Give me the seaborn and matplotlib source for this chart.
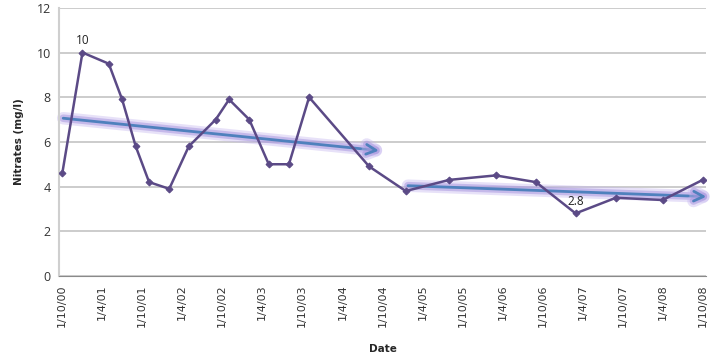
import matplotlib
matplotlib.use("Agg")
import matplotlib.pyplot as plt
import matplotlib.dates as mdates
import matplotlib.patheffects as pe
import seaborn as sns
import pandas as pd

# readings (date, nitrate mg/l)
dates = ["2000-10-01", "2001-01-01", "2001-05-01", "2001-07-01", "2001-09-01",
         "2001-11-01", "2002-02-01", "2002-05-01", "2002-09-01", "2002-11-01",
         "2003-02-01", "2003-05-01", "2003-08-01", "2003-11-01", "2004-08-01",
         "2005-01-15", "2005-08-01", "2006-03-01", "2006-09-01", "2007-03-01",
         "2007-09-01", "2008-04-01", "2008-10-01"]
nitrates = [4.6, 10, 9.5, 7.9, 5.8, 4.2, 3.9, 5.8, 7.0, 7.9, 7.0, 5.0, 5.0, 8.0,
            4.9, 3.8, 4.3, 4.5, 4.2, 2.8, 3.5, 3.4, 4.3]

# hand drawn trend arrows (start, end)
trend1_dates = ["2000-10-05", "2004-09-15"]
trend1_vals = [7.06, 5.61]
trend2_dates = ["2005-01-25", "2008-10-18"]
trend2_vals = [4.04, 3.55]

# labelled points
label_idx = [1, 19]

df = pd.DataFrame({"date": pd.to_datetime(dates), "nitrates": nitrates})

sns.set_style("white")
plt.rcParams['font.family'] = ['DejaVu Sans']

fig = plt.figure(figsize=(7.11, 3.57), dpi=100)
ax = fig.add_axes([0.083, 0.227, 0.91, 0.751])

line_col = "#5b4a86"
sns.lineplot(data=df, x="date", y="nitrates", ax=ax, color=line_col,
             linewidth=1.8, marker="D", markersize=3.5, markeredgecolor=line_col,
             zorder=3)

# trend arrows with a soft purple glow
glow = [pe.Stroke(linewidth=9, foreground="#c4b6ee", alpha=0.4),
        pe.Stroke(linewidth=5.5, foreground="#a592dd", alpha=0.5),
        pe.Normal()]
for td, tv in [(trend1_dates, trend1_vals), (trend2_dates, trend2_vals)]:
    t = pd.to_datetime(td)
    x0, x1 = mdates.date2num(t[0]), mdates.date2num(t[1])
    arr = ax.annotate("", xy=(x1, tv[1]), xytext=(x0, tv[0]),
                      annotation_clip=False,
                      arrowprops=dict(arrowstyle="->,head_length=0.7,head_width=0.35",
                                      color="#4f81bd", lw=2,
                                      shrinkA=0, shrinkB=0), zorder=2)
    arr.arrow_patch.set_path_effects(glow)

for i in label_idx:
    ax.annotate(f"{nitrates[i]:g}", xy=(df["date"][i], nitrates[i]),
                xytext=(0, 4), textcoords="offset points", ha="center",
                va="bottom", fontsize=8.5, color="#222222",
                family=["Open Sans", "DejaVu Sans"], zorder=5)

ax.set_ylim(0, 12)
ax.set_yticks(range(0, 13, 2))
ax.set_xlim(pd.Timestamp("2000-09-16"), pd.Timestamp("2008-10-16"))
ax.xaxis.set_major_locator(mdates.MonthLocator(bymonth=[4, 10], bymonthday=1))
ax.xaxis.set_major_formatter(plt.FuncFormatter(
    lambda v, p: (lambda d: f"{d.day}/{d.month}/{d:%y}")(mdates.num2date(v))))
plt.setp(ax.get_xticklabels(), rotation=90, fontsize=8, color="#333333")
for lab in ax.get_yticklabels():
    lab.set_fontsize(9)
    lab.set_color("#333333")
    lab.set_family(["Open Sans", "DejaVu Sans"])

ax.yaxis.grid(True, color="#c4c4c4", linewidth=1.2)
ax.set_axisbelow(True)
for s in ["top", "right"]:
    ax.spines[s].set_visible(False)
ax.spines["left"].set_color("#cfcfcf")
ax.spines["left"].set_linewidth(1.5)
ax.spines["bottom"].set_color("#8a8a8a")
ax.tick_params(axis="both", length=0, pad=6)

ax.set_xlabel("Date", fontsize=7.5, fontweight="bold", labelpad=12)
ax.set_ylabel("Nitrates (mg/l)", fontsize=7.5, fontweight="bold", labelpad=9)

fig.savefig("out.png", dpi=100)
